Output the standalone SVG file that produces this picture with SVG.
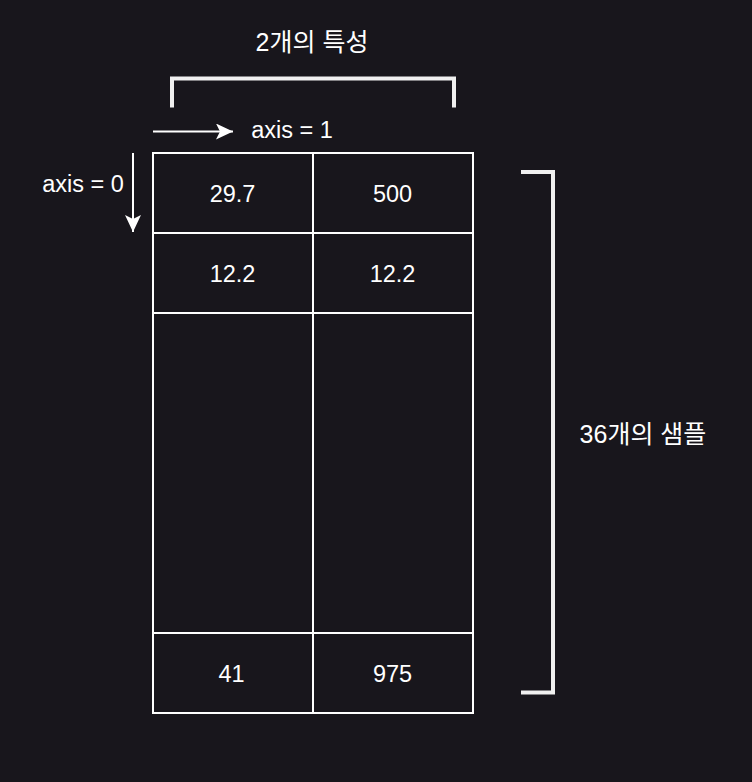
<svg xmlns="http://www.w3.org/2000/svg" width="752" height="782" viewBox="0 0 752 782">
  <style>
    .t { font-family: "Liberation Sans", "Noto Sans CJK KR", Arial, sans-serif; font-size: 23.5px; fill: #ffffff; text-anchor: middle; }
    .k { font-size: 25px; }
    .cell { fill: #18161c; stroke: #ffffff; stroke-width: 2; }
    .br { fill: none; stroke: #f0f0f0; stroke-width: 4; stroke-linecap: butt; stroke-linejoin: miter; }
    .arr { stroke: #ffffff; stroke-width: 2; fill: none; }
  </style>
  <defs>
    <marker id="ah" viewBox="0 0 17 16" refX="17" refY="8" markerWidth="17" markerHeight="16" markerUnits="userSpaceOnUse" orient="auto">
      <path d="M0,0 L17,8 L0,16 L4,8 z" fill="#ffffff"/>
    </marker>
  </defs>
  <rect width="752" height="782" fill="#18161c"/>

  <g id="title-features">
    <text class="t k" x="312" y="51">2개의 특성</text>
  </g>
  <g id="bracket-top">
    <path class="br" d="M172 107.5 V78.5 H454 V107.5"/>
  </g>
  <g id="label-axis1">
    <text class="t" x="292" y="137.5">axis = 1</text>
  </g>
  <g id="label-axis0">
    <text class="t" x="83" y="191.5">axis = 0</text>
  </g>

  <g id="table">
    <g id="r0c0"><rect class="cell" x="153" y="153" width="160" height="80"/><text class="t" x="232.5" y="201.5">29.7</text></g>
    <g id="r0c1"><rect class="cell" x="313" y="153" width="160" height="80"/><text class="t" x="392.5" y="201.5">500</text></g>
    <g id="r1c0"><rect class="cell" x="153" y="233" width="160" height="80"/><text class="t" x="232.5" y="281.5">12.2</text></g>
    <g id="r1c1"><rect class="cell" x="313" y="233" width="160" height="80"/><text class="t" x="392.5" y="281.5">12.2</text></g>
    <g id="r2c0"><rect class="cell" x="153" y="313" width="160" height="320"/></g>
    <g id="r2c1"><rect class="cell" x="313" y="313" width="160" height="320"/></g>
    <g id="r3c0"><rect class="cell" x="153" y="633" width="160" height="80"/><text class="t" x="231.5" y="681.5">41</text></g>
    <g id="r3c1"><rect class="cell" x="313" y="633" width="160" height="80"/><text class="t" x="392.5" y="681.5">975</text></g>
  </g>

  <g id="bracket-right">
    <path class="br" d="M521 172 H553 V692.5 H521"/>
  </g>
  <g id="title-samples">
    <text class="t k" x="643" y="443">36개의 샘플</text>
  </g>

  <g id="connectors">
    <line class="arr" x1="153" y1="131.5" x2="233" y2="131.5" marker-end="url(#ah)"/>
    <line class="arr" x1="133" y1="153" x2="133" y2="232" marker-end="url(#ah)"/>
  </g>
</svg>
